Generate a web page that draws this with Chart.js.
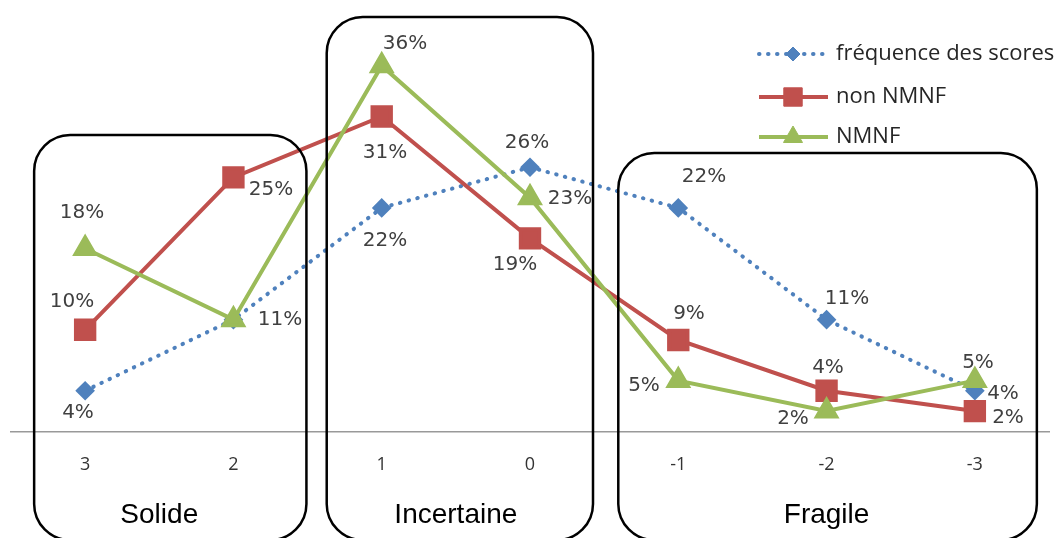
<!DOCTYPE html>
<html>
<head>
<meta charset="utf-8">
<script src="https://cdn.jsdelivr.net/npm/chart.js@4.4.1/dist/chart.umd.min.js"></script>
<style>
  html, body { margin: 0; padding: 0; background: #fff; }
  #wrap { width: 1059px; height: 538px; position: relative; }
</style>
</head>
<body>
<div id="wrap"><canvas id="scoresChart"></canvas></div>
<script>
// scores, from the strongest to the weakest
const categories = ['3', '2', '1', '0', '-1', '-2', '-3'];
const seriesNames = ['fréquence des scores', 'non NMNF', 'NMNF'];
const frequence = [4, 11, 22, 26, 22, 11, 4];
const nonNmnf = [10, 25, 31, 19, 9, 4, 2];
const nmnf = [18, 11, 36, 23, 5, 2, 5];

// groups of scores: name, first and last category
const groupNames = ['Solide', 'Incertaine', 'Fragile'];
const groupFirst = ['3', '1', '-1'];
const groupLast = ['2', '0', '-3'];

// where each value label sits around its point (dx, dy in px)
const labelOffsets = [
    [[-7, 22], [47, 0], [3, 33], [-3, -24], [26, -31], [20, -21], [28, 3]],
    [[-13, -28], [38, 13], [3, 37], [-15, 27], [11, -26], [1, -23], [33, 7]],
    [[-3, -36], [47, 0], [23, -22], [40, 1], [-34, 5], [-34, 8], [3, -18]],
];

const blue = '#4F81BD';
const red = '#C0504D';
const green = '#9BBB59';
const textColor = '#404040';

document.addEventListener('DOMContentLoaded', () => {
    const canvas = document.getElementById('scoresChart');

    const valueLabels = {
        id: 'valueLabels',
        afterDatasetsDraw(chart) {
            const { ctx } = chart;
            const done = new Set();
            ctx.save();
            ctx.font = '20px "DejaVu Sans"';
            ctx.fillStyle = textColor;
            ctx.textAlign = 'center';
            ctx.textBaseline = 'middle';
            chart.data.datasets.forEach((ds, i) => {
                chart.getDatasetMeta(i).data.forEach((pt, j) => {
                    const [dx, dy] = labelOffsets[i][j];
                    const tx = Math.round(pt.x + dx);
                    const ty = Math.round(pt.y + dy);
                    const key = `${ds.data[j]}@${tx},${ty}`;
                    // labels that land on the same spot are drawn once
                    if (done.has(key)) return;
                    done.add(key);
                    ctx.fillText(ds.data[j] + '%', tx, ty);
                });
            });
            ctx.restore();
        },
    };

    const groupBoxes = {
        id: 'groupBoxes',
        afterDatasetsDraw(chart) {
            const { ctx } = chart;
            const x = chart.scales.x;
            const px = (c) => x.getPixelForValue(categories.indexOf(c));
            const tops = [135, 17, 153];
            const padLeft = [51, 55, 60];
            const padRight = [73, 63, 62];
            ctx.save();
            ctx.strokeStyle = '#000';
            ctx.lineWidth = 2.5;
            groupNames.forEach((name, g) => {
                const left = px(groupFirst[g]) - padLeft[g];
                const right = px(groupLast[g]) + padRight[g];
                ctx.beginPath();
                ctx.roundRect(left, tops[g], right - left, 540 - tops[g], 36);
                ctx.stroke();
                const center = (px(groupFirst[g]) + px(groupLast[g])) / 2;
                ctx.font = '28px "Liberation Sans", Arial, sans-serif';
                ctx.fillStyle = '#000';
                ctx.textAlign = 'center';
                ctx.textBaseline = 'middle';
                ctx.fillText(name, g === 2 ? px('-2') : center, 515);
            });
            ctx.restore();
        },
    };

    const lineLegend = {
        id: 'lineLegend',
        afterDraw(chart) {
            const { ctx } = chart;
            const rows = [54, 97, 137];
            ctx.save();
            chart.data.datasets.forEach((ds, i) => {
                const y = rows[i];
                ctx.save();
                ctx.strokeStyle = ds.borderColor;
                ctx.lineWidth = ds.borderWidth;
                ctx.lineCap = ds.borderCapStyle || 'butt';
                ctx.setLineDash(ds.borderDash || []);
                ctx.beginPath();
                ctx.moveTo(759, y);
                ctx.lineTo(828, y);
                ctx.stroke();
                ctx.restore();
                ctx.fillStyle = ds.pointBackgroundColor;
                ctx.strokeStyle = ds.pointBorderColor;
                ctx.lineWidth = 1;
                Chart.helpers.drawPoint(ctx, {
                    pointStyle: ds.pointStyle,
                    radius: ds.pointRadius,
                    borderWidth: 1,
                    rotation: 0,
                }, 793, y);
                ctx.font = '22px "Open Sans", sans-serif';
                ctx.fillStyle = '#262626';
                ctx.textAlign = 'left';
                ctx.textBaseline = 'middle';
                ctx.fillText(ds.label, 836, y);
            });
            ctx.restore();
        },
    };

    new Chart(canvas, {
        type: 'line',
        data: {
            labels: categories,
            datasets: [
                {
                    label: seriesNames[0],
                    data: frequence,
                    borderColor: blue,
                    borderWidth: 4,
                    borderDash: [0.5, 8.5],
                    borderCapStyle: 'round',
                    pointStyle: 'rectRot',
                    pointRadius: 7,
                    pointBackgroundColor: blue,
                    pointBorderColor: blue,
                    order: 2,
                },
                {
                    label: seriesNames[1],
                    data: nonNmnf,
                    borderColor: red,
                    borderWidth: 4,
                    pointStyle: 'rect',
                    pointRadius: 13,
                    pointBackgroundColor: red,
                    pointBorderColor: red,
                    order: 1,
                },
                {
                    label: seriesNames[2],
                    data: nmnf,
                    borderColor: green,
                    borderWidth: 4,
                    pointStyle: 'triangle',
                    pointRadius: 11,
                    pointBackgroundColor: green,
                    pointBorderColor: green,
                    order: 0,
                },
            ],
        },
        options: {
            responsive: true,
            maintainAspectRatio: false,
            animation: false,
            layout: {
                autoPadding: false,
                padding: { left: 11, right: 10, top: 25, bottom: 39 },
            },
            scales: {
                x: {
                    offset: true,
                    grid: { display: false, drawTicks: false },
                    border: { display: true, color: '#999', width: 1.5 },
                    ticks: {
                        padding: 23,
                        color: '#333',
                        font: { family: 'Open Sans', size: 18 },
                    },
                },
                y: {
                    display: false,
                    min: 0,
                    max: 40,
                },
            },
            plugins: {
                legend: { display: false },
                tooltip: { enabled: false },
            },
        },
        plugins: [groupBoxes, valueLabels, lineLegend],
    });
});
</script>
</body>
</html>
